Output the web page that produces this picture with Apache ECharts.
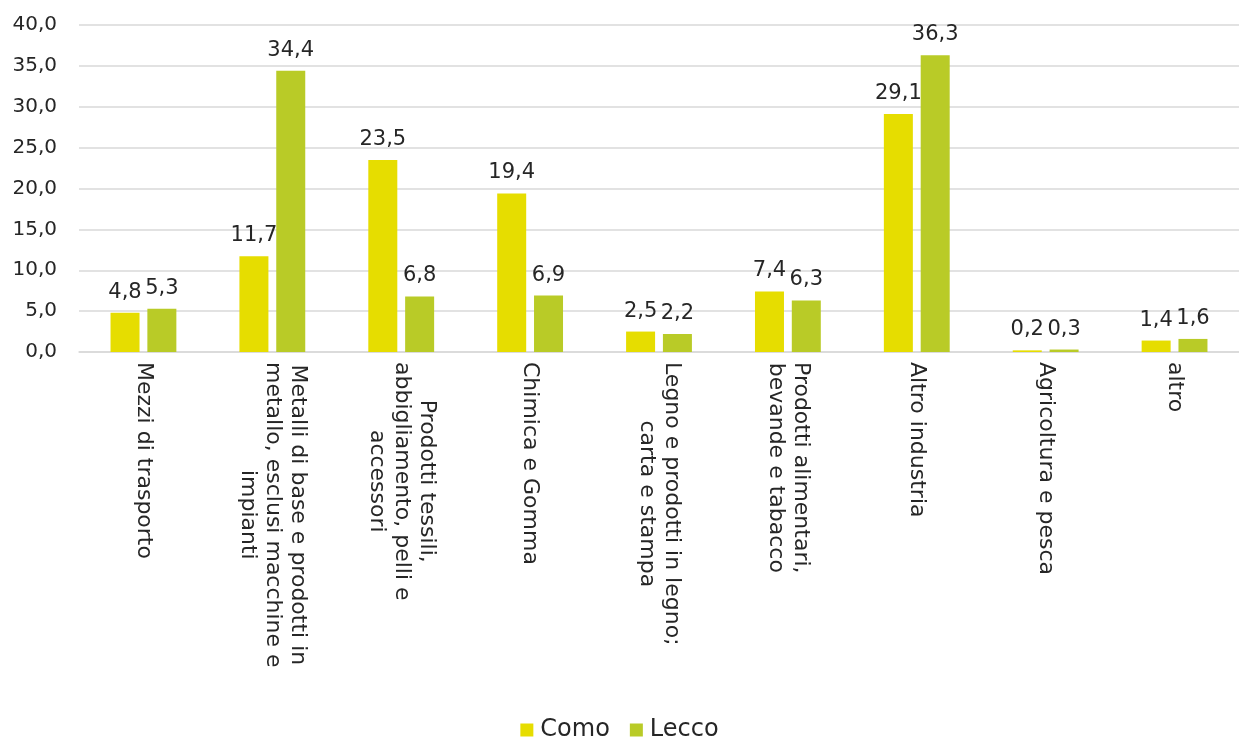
<!DOCTYPE html>
<html>
<head>
<meta charset="utf-8">
<script src="https://cdn.jsdelivr.net/npm/echarts@6/dist/echarts.min.js"></script>
<style>
html,body{margin:0;padding:0;background:#fff;}
#chart{width:1239px;height:740px;}
</style>
</head>
<body>
<div id="chart"></div>
<script>
const categories = [
  "Mezzi di trasporto",
  "Metalli di base e prodotti in\nmetallo, esclusi macchine e\nimpianti",
  "Prodotti tessili,\nabbigliamento, pelli e\naccessori",
  "Chimica e Gomma",
  "Legno e prodotti in legno;\ncarta e stampa",
  "Prodotti alimentari,\nbevande e tabacco",
  "Altro industria",
  "Agricoltura e pesca",
  "altro"
];
const seriesNames = ["Como", "Lecco"];
const como = [4.8, 11.7, 23.5, 19.4, 2.5, 7.4, 29.1, 0.2, 1.4];
const lecco = [5.3, 34.4, 6.8, 6.9, 2.2, 6.3, 36.3, 0.3, 1.6];

const FONT = "DejaVu Sans";
const fmt = v => Number(v).toFixed(1).replace('.', ',');

const chart = echarts.init(document.getElementById('chart'), null, {renderer: 'canvas'});
chart.setOption({
  animation: false,
  color: ['#E6DD00', '#B9CB27'],
  grid: {left: 79, top: 25, bottom: 388, right: -15, containLabel: false},
  legend: {
    data: seriesNames,
    top: 718,
    left: 'center',
    padding: 0,
    icon: 'rect',
    itemWidth: 13,
    itemHeight: 13,
    itemGap: 20,
    textStyle: {fontFamily: FONT, fontSize: 24, lineHeight: 24, color: '#262626', padding: [0, 0, 0, 2]}
  },
  xAxis: {
    type: 'category',
    data: categories,
    axisLine: {show: true, lineStyle: {color: '#D9D9D9', width: 1.5}},
    axisTick: {show: false},
    axisLabel: {
      interval: 0,
      rotate: -90,
      margin: 10,
      color: '#262626',
      fontFamily: FONT,
      fontSize: 22,
      lineHeight: 25,
      formatter: v => v.split('\n').map(s => '{c|' + s + '}').join('\n'),
      rich: {c: {align: 'center', fontFamily: FONT, fontSize: 22, lineHeight: 25, color: '#262626'}}
    }
  },
  yAxis: {
    type: 'value',
    min: 0,
    max: 40,
    interval: 5,
    axisLine: {show: false},
    axisTick: {show: false},
    splitLine: {lineStyle: {color: '#D9D9D9', width: 1.5}},
    axisLabel: {
      margin: 22,
      color: '#262626',
      fontFamily: FONT,
      fontSize: 20,
      formatter: fmt
    }
  },
  series: [
    {
      name: seriesNames[0], type: 'bar', data: como,
      barWidth: 29, barGap: '27%',
      label: {show: true, position: 'top', distance: 10, fontFamily: FONT, fontSize: 21, color: '#262626', formatter: p => fmt(p.value)}
    },
    {
      name: seriesNames[1], type: 'bar', data: lecco,
      barWidth: 29, barGap: '27%',
      label: {show: true, position: 'top', distance: 10, fontFamily: FONT, fontSize: 21, color: '#262626', formatter: p => fmt(p.value)}
    }
  ]
});
</script>
</body>
</html>
